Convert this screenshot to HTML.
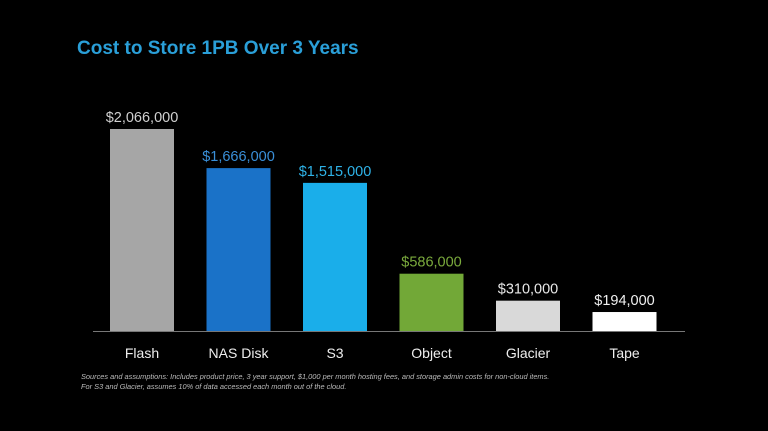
<!DOCTYPE html>
<html><head><meta charset="utf-8"><style>
html,body{margin:0;padding:0;background:#000;}
body{width:768px;height:431px;overflow:hidden;position:relative;font-family:"Liberation Sans",sans-serif;}
#title{position:absolute;left:77px;top:38px;color:#2a9fd8;font-size:19px;font-weight:bold;margin:0;}
#note{position:absolute;left:81px;top:372px;color:#bbb;font-size:7.4px;font-style:italic;line-height:9.5px;white-space:nowrap;}
</style></head><body>
<h1 id="title">Cost to Store 1PB Over 3 Years</h1>
<svg id="chart" width="768" height="431" style="position:absolute;left:0;top:0"></svg>
<div id="note">Sources and assumptions: Includes product price, 3 year support, $1,000 per month hosting fees, and storage admin costs for non-cloud items.<br>For S3 and Glacier, assumes 10% of data accessed each month out of the cloud.</div>
<script>
const categories=["Flash","NAS Disk","S3","Object","Glacier","Tape"];
const values=[2066000,1666000,1515000,586000,310000,194000];
const valueLabels=["$2,066,000","$1,666,000","$1,515,000","$586,000","$310,000","$194,000"];
const barColors=["#a6a6a6","#1a72c8","#1aaeea","#72a837","#d9d9d9","#ffffff"];
const labelColors=["#d0d0d0","#3a8fd8","#2fb3e8","#7bab3d","#e8e8e8","#f0f0f0"];
const svg=document.getElementById('chart');
const NS="http://www.w3.org/2000/svg";
const baseY=331, plotH=202, maxV=2066000, x0=94, step=96.5, bw=64;
function y(v){return baseY-v/maxV*plotH;}
function x(i){return x0+16+i*step;}
function mk(t,a){const e=document.createElementNS(NS,t);for(const k in a)e.setAttribute(k,a[k]);svg.appendChild(e);return e;}
const ax=mk('line',{x1:93,x2:685,y1:baseY+0.5,y2:baseY+0.5,stroke:'#777','stroke-width':1});


categories.forEach((c,i)=>{
  const r=mk('rect',{x:x(i),y:y(values[i]),width:bw,height:baseY-y(values[i]),fill:barColors[i]});
  
  
  const v=mk('text',{x:x(i)+bw/2,y:y(values[i])-7,'text-anchor':'middle',fill:labelColors[i],'font-size':14.5});
  v.textContent=valueLabels[i];
  
  
  const l=mk('text',{x:x(i)+bw/2,y:358,'text-anchor':'middle',fill:'#eee','font-size':14});
  l.textContent=c;
  
  
});
</script>
</body></html>
